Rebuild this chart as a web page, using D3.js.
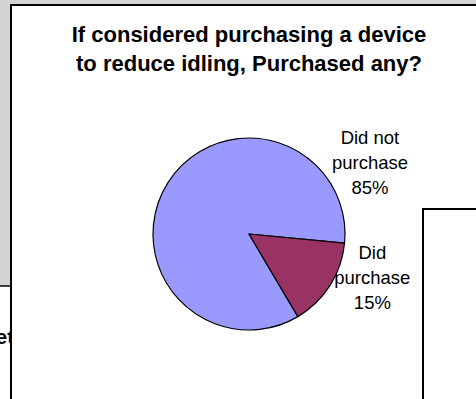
<!DOCTYPE html>
<html>
<head>
<meta charset="utf-8">
<script src="https://cdn.jsdelivr.net/npm/d3@7"></script>
<style>
  html, body { margin: 0; padding: 0; background: #d4d4d4; }
  svg { display: block; }
</style>
</head>
<body>
<svg id="chart" width="476" height="399"></svg>
<script>
// Survey answers
const categories = ["Did not purchase", "Did purchase"];
const values = [85, 15];
const labelLines = [["Did not", "purchase"], ["Did", "purchase"]];
const titleLines = ["If considered purchasing a device", "to reduce idling, Purchased any?"];
const colors = ["#9999ff", "#993366"];

const W = 476, H = 399;
const FONT = "Arial, 'Liberation Sans', Helvetica, sans-serif";
const svg = d3.select("#chart");

// sheet background
svg.append("rect").attr("width", W).attr("height", H).attr("fill", "#d4d4d4");

// neighbouring chart peeking out on the left
svg.append("rect").attr("x", -20).attr("y", 286).attr("width", 60).attr("height", 200)
  .attr("fill", "#ffffff").attr("stroke", "#000").attr("stroke-width", 1.5);
svg.append("text").attr("x", -4.5).attr("y", 344)
  .attr("font-family", FONT).attr("font-weight", "bold").attr("font-size", 21)
  .attr("fill", "#000").text("et");

// main chart area
svg.append("rect").attr("x", 11).attr("y", 5).attr("width", 600).attr("height", 600)
  .attr("fill", "#ffffff").attr("stroke", "#000").attr("stroke-width", 2);

// title
const title = svg.append("text")
  .attr("font-family", FONT).attr("font-weight", "bold").attr("font-size", 22)
  .attr("text-anchor", "middle").attr("fill", "#000");
title.selectAll("tspan").data(titleLines).join("tspan")
  .attr("x", 249).attr("y", (d, i) => 42 + i * 28.5).text(d => d);

// pie
const cx = 249, cy = 234, r = 96;
const start = 149.4 * Math.PI / 180;
const pie = d3.pie().sort(null).startAngle(start).endAngle(start + 2 * Math.PI);
const arcs = pie(values);
const arc = d3.arc().innerRadius(0).outerRadius(r);
const g = svg.append("g").attr("transform", `translate(${cx},${cy})`);
g.selectAll("path").data(arcs).join("path")
  .attr("d", arc)
  .attr("fill", (d, i) => colors[i])
  .attr("stroke", "#000").attr("stroke-width", 1.2).attr("stroke-linejoin", "round");

// data labels, placed beside the pie relative to its radius
const labelOffsets = [[1.26, -0.745], [1.285, 0.45]];
const lineH = 25;
arcs.forEach((a, i) => {
  const lines = labelLines[i].concat([`${a.data}%`]);
  const lx = cx + labelOffsets[i][0] * r;
  const ly = cy + labelOffsets[i][1] * r;
  const t = svg.append("text")
    .attr("font-family", FONT).attr("font-size", 18.5)
    .attr("text-anchor", "middle").attr("fill", "#000");
  t.selectAll("tspan").data(lines).join("tspan")
    .attr("x", lx)
    .attr("y", (d, j) => ly + (j - 1) * lineH + 6.5)
    .text(d => d);
});

// neighbouring chart overlapping on the right
svg.append("rect").attr("x", 423).attr("y", 209).attr("width", 200).attr("height", 300)
  .attr("fill", "#ffffff").attr("stroke", "#000").attr("stroke-width", 2);
</script>
</body>
</html>
